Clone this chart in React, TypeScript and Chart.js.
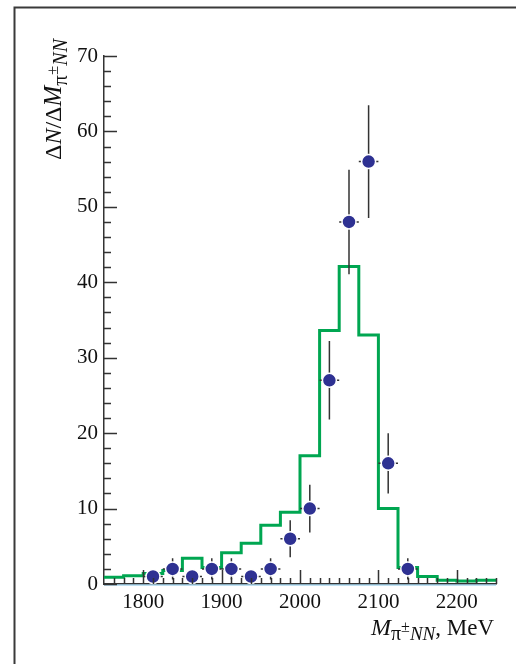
import React, { useEffect, useRef } from "react";
import { Chart, registerables } from "chart.js";

Chart.register(...registerables);

// ---- data ----
const binEdges = [1750, 1775, 1800, 1825, 1850, 1875, 1900, 1925, 1950, 1975, 2000, 2025, 2050, 2075, 2100, 2125, 2150, 2175, 2200, 2225];
const binEnd = 2250;
const histCounts = [0.9, 1.1, 1.4, 1.8, 3.4, 2.2, 4.15, 5.4, 7.8, 9.5, 17.0, 33.6, 42.1, 33.0, 10.0, 2.2, 1.0, 0.5, 0.4, 0.5];

const dataMass = [1812.5, 1837.5, 1862.5, 1887.5, 1912.5, 1937.5, 1962.5, 1987.5, 2012.5, 2037.5, 2062.5, 2087.5, 2112.5, 2137.5];
const dataCounts = [1, 2, 1, 2, 2, 1, 2, 6, 10, 27, 48, 56, 16, 2];
const dataErrors = [1, 1.41, 1, 1.41, 1.41, 1, 1.41, 2.45, 3.16, 5.2, 6.93, 7.48, 4, 1.41];
const massHalfWidth = 12.5;

const xTickValues = [1800, 1900, 2000, 2100, 2200];
const yTickValues = [0, 10, 20, 30, 40, 50, 60, 70];
const xMin = 1750;
const xMax = 2250;
const yMin = 0;
const yMax = 70;
const xMinorStep = 12.5;
const yMinorStep = 2;

const SERIF = '"Liberation Serif", "DejaVu Serif", serif';
const AXIS_COLOR = "#333333";
const TEXT_COLOR = "#111111";
const GREEN = "#00a651";
const BLUE = "#2e3192";

const errorBarsPlugin = {
  id: "errorBars",
  beforeDatasetDraw(chart: any, args: any) {
    if (args.index !== 1) return;
    const { x, y } = chart.scales;
    const c = chart.ctx;
    c.save();
    c.strokeStyle = "#333333";
    c.lineWidth = 1.5;
    dataMass.forEach((m, i) => {
      const px = x.getPixelForValue(m);
      const py = y.getPixelForValue(dataCounts[i]);
      const top = y.getPixelForValue(dataCounts[i] + dataErrors[i]);
      const bot = y.getPixelForValue(Math.max(0, dataCounts[i] - dataErrors[i]));
      c.beginPath();
      c.moveTo(px, top);
      c.lineTo(px, bot);
      c.moveTo(x.getPixelForValue(m - massHalfWidth), py);
      c.lineTo(x.getPixelForValue(m + massHalfWidth), py);
      c.stroke();
    });
    c.restore();
  },
};

function drawRun(c: CanvasRenderingContext2D, parts: [string, string, number][], x0: number, y0: number) {
  let cx = x0;
  for (const [t, f, dy] of parts) {
    c.font = f;
    c.fillText(t, cx, y0 + dy);
    cx += c.measureText(t).width;
  }
  return cx - x0;
}

const decorPlugin = {
  id: "decor",
  afterDraw(chart: any) {
    const c = chart.ctx;
    const { x, y } = chart.scales;
    const area = chart.chartArea;
    c.save();
    // frame
    c.strokeStyle = "#3a3a3a";
    c.lineWidth = 2;
    c.beginPath();
    c.moveTo(14.5, 664);
    c.lineTo(14.5, 7.5);
    c.lineTo(516, 7.5);
    c.stroke();

    // light blue baseline
    c.strokeStyle = "#7fc4e8";
    c.lineWidth = 1.2;
    c.beginPath();
    c.moveTo(area.left, area.bottom + 1);
    c.lineTo(area.right, area.bottom + 1);
    c.stroke();

    // ticks (inside)
    c.strokeStyle = AXIS_COLOR;
    c.lineWidth = 1.5;
    c.beginPath();
    for (let v = yMin; v <= yMax + 1e-6; v += yMinorStep) {
      const py = Math.round(y.getPixelForValue(v)) + 0.5;
      const major = yTickValues.includes(v);
      c.moveTo(area.left, py);
      c.lineTo(area.left + (major ? 13 : 7), py);
    }
    for (let v = xMin + xMinorStep; v <= xMax + 1e-6; v += xMinorStep) {
      const px = Math.round(x.getPixelForValue(v)) + 0.5;
      const major = xTickValues.includes(v);
      c.moveTo(px, area.bottom);
      c.lineTo(px, area.bottom - (major ? 14 : 6));
    }
    c.stroke();

    c.fillStyle = TEXT_COLOR;
    c.textBaseline = "alphabetic";
    c.textAlign = "left";

    // x title: M_{π±NN}, MeV
    const xParts: [string, string, number][] = [
      ["M", `italic 24px ${SERIF}`, 0],
      ["π", `20px ${SERIF}`, 5],
      ["±", `16px ${SERIF}`, -3],
      ["NN", `italic 19px ${SERIF}`, 5],
      [", MeV", `23px ${SERIF}`, 0],
    ];
    let w = 0;
    for (const [t, f] of xParts) {
      c.font = f;
      w += c.measureText(t).width;
    }
    drawRun(c, xParts, 494 - w, 635);

    // y title: ΔN/ΔM_{π±NN}
    c.save();
    c.translate(61, 160);
    c.rotate(-Math.PI / 2);
    const yParts: [string, string, number][] = [
      ["Δ", `24px ${SERIF}`, 0],
      ["N", `italic 24px ${SERIF}`, 0],
      ["/", `24px ${SERIF}`, 0],
      ["Δ", `24px ${SERIF}`, 0],
      ["M", `italic 25px ${SERIF}`, 0],
      ["π", `21px ${SERIF}`, 6],
      ["±", `17px ${SERIF}`, -3],
      ["NN", `italic 20px ${SERIF}`, 6],
    ];
    drawRun(c, yParts, 0, 0);
    c.restore();

    c.restore();
  },
};

export default function App() {
  const ref = useRef<HTMLCanvasElement>(null);
  useEffect(() => {
    document.body.style.margin = "0";
    const canvas = ref.current!;
    const histPoints = binEdges.map((e, i) => ({ x: e, y: histCounts[i] }));
    histPoints.push({ x: binEnd, y: histCounts[histCounts.length - 1] });
    const chart = new Chart(canvas, {
      type: "scatter",
      data: {
        datasets: [
          {
            type: "line",
            data: histPoints,
            stepped: true,
            borderColor: GREEN,
            borderWidth: 3,
            pointRadius: 0,
            fill: false,
            order: 2,
          } as any,
          {
            type: "scatter",
            data: dataMass.map((m, i) => ({ x: m, y: dataCounts[i] })),
            backgroundColor: BLUE,
            borderColor: "#ffffff",
            borderWidth: 1.5,
            pointRadius: 7,
            order: 1,
            clip: false,
          } as any,
        ],
      },
      options: {
        animation: false,
        responsive: false,
        devicePixelRatio: 1,
        layout: { padding: { left: 0, top: 56, right: 20, bottom: 0 } },
        plugins: { legend: { display: false }, tooltip: { enabled: false } },
        scales: {
          x: {
            type: "linear",
            min: xMin,
            max: xMax,
            grid: { display: false, drawTicks: false },
            border: { display: true, color: AXIS_COLOR, width: 1.5 },
            ticks: {
              color: TEXT_COLOR,
              font: { family: SERIF, size: 21 },
              padding: 6,
              maxRotation: 0,
              callback: (v: any) => String(v),
            },
            afterBuildTicks: (s: any) => {
              s.ticks = xTickValues.map((v) => ({ value: v }));
            },
            afterFit: (s: any) => {
              s.height = 80;
            },
          },
          y: {
            type: "linear",
            min: yMin,
            max: yMax,
            grid: { display: false, drawTicks: false },
            border: { display: true, color: AXIS_COLOR, width: 1.5 },
            ticks: {
              color: TEXT_COLOR,
              font: { family: SERIF, size: 21 },
              padding: 6,
              callback: (v: any) => String(v),
            },
            afterBuildTicks: (s: any) => {
              s.ticks = yTickValues.map((v) => ({ value: v }));
            },
            afterFit: (s: any) => {
              s.width = 104;
            },
          },
        },
      },
      plugins: [errorBarsPlugin, decorPlugin],
    } as any);
    return () => chart.destroy();
  }, []);
  return (
    <div style={{ width: 516, height: 664, position: "relative", background: "#fff" }}>
      <canvas ref={ref} width={516} height={664} style={{ display: "block", width: 516, height: 664 }} />
    </div>
  );
}
